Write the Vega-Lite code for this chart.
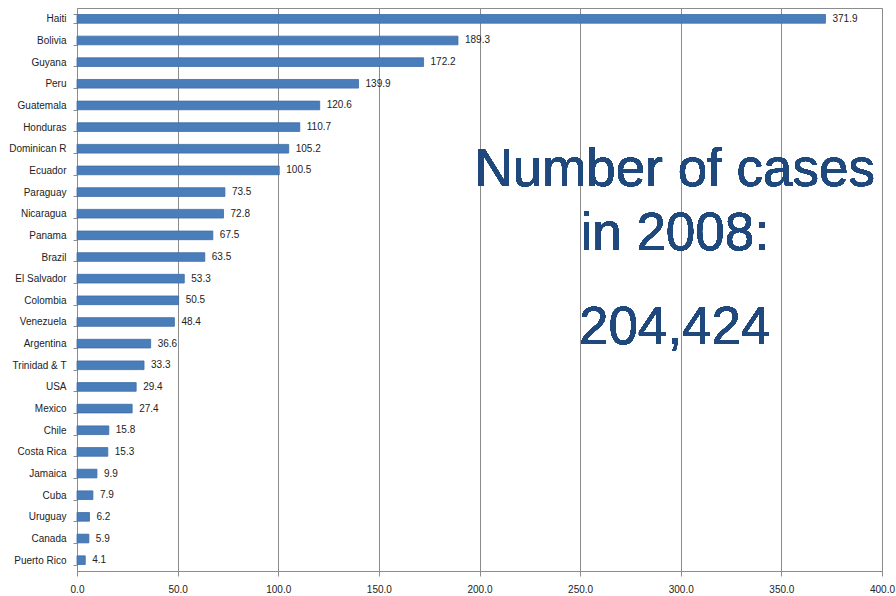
{
  "$schema": "https://vega.github.io/schema/vega-lite/v6.json",
  "width": 805,
  "height": 563,
  "autosize": {"type": "none"},
  "padding": {"left": 77, "top": 8, "right": 14, "bottom": 25},
  "background": "white",
  "config": {
    "view": {"stroke": "#8c8c8c", "strokeWidth": 1},
    "font": "Liberation Sans"
  },
  "data": {
    "values": [
      {"country": "Haiti", "cases": 371.9},
      {"country": "Bolivia", "cases": 189.3},
      {"country": "Guyana", "cases": 172.2},
      {"country": "Peru", "cases": 139.9},
      {"country": "Guatemala", "cases": 120.6},
      {"country": "Honduras", "cases": 110.7},
      {"country": "Dominican R", "cases": 105.2},
      {"country": "Ecuador", "cases": 100.5},
      {"country": "Paraguay", "cases": 73.5},
      {"country": "Nicaragua", "cases": 72.8},
      {"country": "Panama", "cases": 67.5},
      {"country": "Brazil", "cases": 63.5},
      {"country": "El Salvador", "cases": 53.3},
      {"country": "Colombia", "cases": 50.5},
      {"country": "Venezuela", "cases": 48.4},
      {"country": "Argentina", "cases": 36.6},
      {"country": "Trinidad & T", "cases": 33.3},
      {"country": "USA", "cases": 29.4},
      {"country": "Mexico", "cases": 27.4},
      {"country": "Chile", "cases": 15.8},
      {"country": "Costa Rica", "cases": 15.3},
      {"country": "Jamaica", "cases": 9.9},
      {"country": "Cuba", "cases": 7.9},
      {"country": "Uruguay", "cases": 6.2},
      {"country": "Canada", "cases": 5.9},
      {"country": "Puerto Rico", "cases": 4.1}
    ]
  },
  "layer": [
    {
      "mark": {"type": "bar", "color": "#4a7ebb", "stroke": "#3d6ca6", "strokeWidth": 0.8},
      "encoding": {
        "y": {
          "field": "country",
          "type": "nominal",
          "scale": {
            "domain": ["Haiti", "Bolivia", "Guyana", "Peru", "Guatemala", "Honduras", "Dominican R", "Ecuador", "Paraguay", "Nicaragua", "Panama", "Brazil", "El Salvador", "Colombia", "Venezuela", "Argentina", "Trinidad & T", "USA", "Mexico", "Chile", "Costa Rica", "Jamaica", "Cuba", "Uruguay", "Canada", "Puerto Rico"],
            "paddingInner": 0.6,
            "paddingOuter": 0.3
          },
          "axis": {
            "title": null,
            "labelFontSize": 10,
            "labelColor": "#222222",
            "tickBand": "extent",
            "tickSize": 4,
            "tickColor": "#8c8c8c",
            "domainColor": "#8c8c8c",
            "labelPadding": 7,
            "grid": false
          }
        },
        "x": {
          "field": "cases",
          "type": "quantitative",
          "scale": {"domain": [0, 400], "nice": false},
          "axis": {
            "title": null,
            "values": [0, 50, 100, 150, 200, 250, 300, 350, 400],
            "format": ".1f",
            "labelFlush": false,
            "labelFontSize": 10,
            "labelColor": "#222222",
            "tickColor": "#8c8c8c",
            "tickSize": 5,
            "domainColor": "#8c8c8c",
            "gridColor": "#8c8c8c",
            "gridWidth": 1,
            "labelPadding": 8
          }
        }
      }
    },
    {
      "mark": {"type": "text", "align": "left", "dx": 7, "fontSize": 10, "color": "#222222"},
      "encoding": {
        "y": {"field": "country", "type": "nominal"},
        "x": {"field": "cases", "type": "quantitative"},
        "text": {"field": "cases", "type": "quantitative", "format": ".1f"}
      }
    },
    {
      "mark": {"type": "text", "align": "center", "baseline": "alphabetic", "fontSize": 53, "color": "#1f497d", "font": "Liberation Sans"},
      "encoding": {
        "x": {"datum": 297, "type": "quantitative"},
        "y": {"datum": "Paraguay", "type": "nominal", "bandPosition": -0.2},
        "text": {"value": "Number of cases"}
      }
    },
    {
      "mark": {"type": "text", "align": "center", "baseline": "middle", "fontSize": 53, "color": "#1f497d", "font": "Liberation Sans"},
      "encoding": {
        "x": {"datum": 297, "type": "quantitative"},
        "y": {"datum": "Panama", "type": "nominal", "bandPosition": 0.35},
        "text": {"value": "in 2008:"}
      }
    },
    {
      "mark": {"type": "text", "align": "center", "baseline": "alphabetic", "fontSize": 53, "color": "#1f497d", "font": "Liberation Sans"},
      "encoding": {
        "x": {"datum": 297, "type": "quantitative"},
        "y": {"datum": "Argentina", "type": "nominal", "bandPosition": 0.56},
        "text": {"value": "204,424"}
      }
    }
  ]
}
